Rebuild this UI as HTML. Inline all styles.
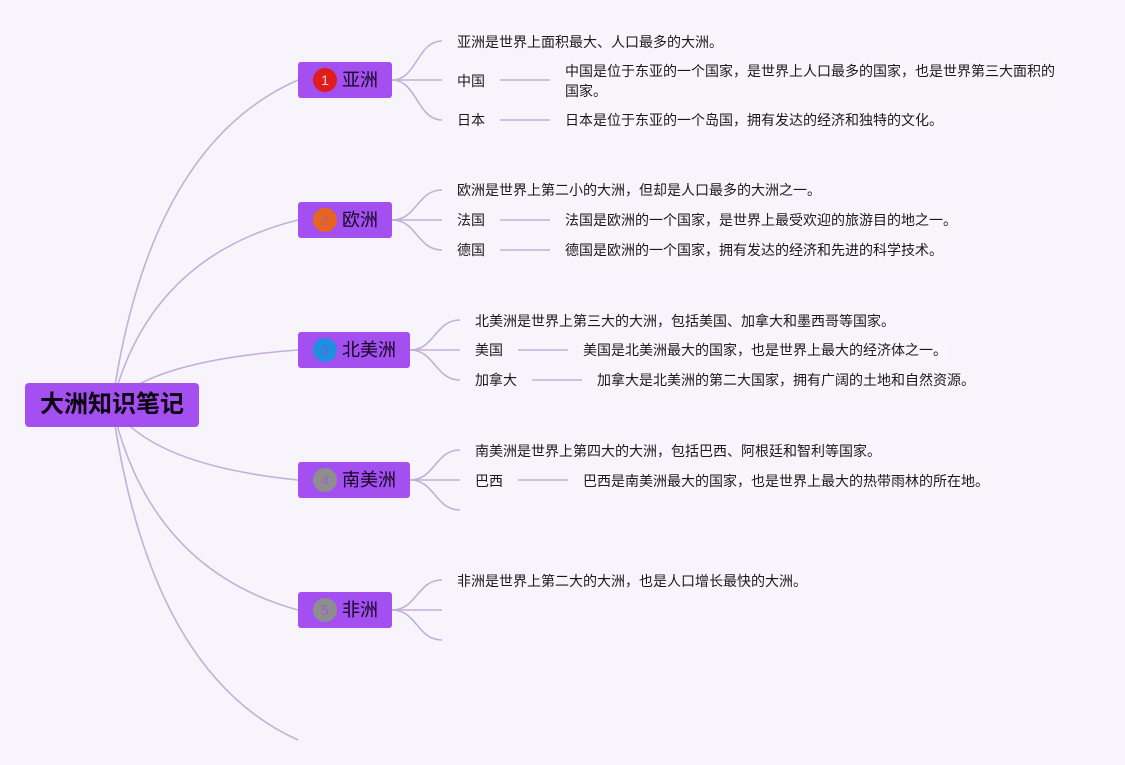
<!DOCTYPE html>
<html>
<head>
<meta charset="utf-8">
<style>
  html,body{margin:0;padding:0;}
  body{width:1125px;height:765px;background:#f8f4fb;position:relative;overflow:hidden;
    font-family:"Liberation Sans","Noto Sans CJK SC",sans-serif;}
  svg{position:absolute;left:0;top:0;}
  .root{position:absolute;left:25px;top:383px;width:174px;height:44px;background:#a44ff0;border-radius:4px;
    color:#0a0010;font-weight:bold;font-size:24px;line-height:44px;text-align:center;letter-spacing:0px;}
  .node{position:absolute;height:36px;background:#a44ff0;border-radius:3px;}
  .badge{position:absolute;left:15px;top:6px;width:24px;height:24px;border-radius:50%;
    font-size:14px;line-height:24px;text-align:center;font-family:"Liberation Sans",sans-serif;}
  .lbl{position:absolute;left:44px;top:0;line-height:36px;font-size:18px;color:#14061f;white-space:nowrap;}
  .t{position:absolute;font-size:14px;line-height:20px;color:#1a1a1a;white-space:nowrap;}
  .d{background:rgba(255,255,255,0.2);}
</style>
</head>
<body>
<svg width="1125" height="765" viewBox="0 0 1125 765">
  <g fill="none" stroke="#c3b0d9" stroke-width="1.6">
    <path d="M112,405 Q149,145 298,80"/>
    <path d="M112,405 Q149,257 298,220"/>
    <path d="M112,405 Q149,361 298,350"/>
    <path d="M112,405 Q149,465 298,480"/>
    <path d="M112,405 Q149,569 298,610"/>
    <path d="M112,405 Q149,673 298,740"/>

    <path d="M392,80 C417,80 417,41 442,41"/>
    <path d="M392,80 L442,80"/>
    <path d="M392,80 C417,80 417,120 442,120"/>

    <path d="M392,220 C417,220 417,190 442,190"/>
    <path d="M392,220 L442,220"/>
    <path d="M392,220 C417,220 417,250 442,250"/>

    <path d="M410,350 C435,350 435,320 460,320"/>
    <path d="M410,350 L460,350"/>
    <path d="M410,350 C435,350 435,380 460,380"/>

    <path d="M410,480 C435,480 435,450 460,450"/>
    <path d="M410,480 L460,480"/>
    <path d="M410,480 C435,480 435,510 460,510"/>

    <path d="M392,610 C417,610 417,580 442,580"/>
    <path d="M392,610 L442,610"/>
    <path d="M392,610 C417,610 417,640 442,640"/>

    <path d="M500,80 L550,80"/>
    <path d="M500,120 L550,120"/>
    <path d="M500,220 L550,220"/>
    <path d="M500,250 L550,250"/>
    <path d="M518,350 L568,350"/>
    <path d="M532,380 L582,380"/>
    <path d="M518,480 L568,480"/>
  </g>
</svg>

<div class="root">大洲知识笔记</div>

<div class="node" style="left:298px;top:62px;width:94px;">
  <div class="badge" style="background:#e01d1d;color:#f6d0d0;">1</div>
  <div class="lbl">亚洲</div>
</div>
<div class="node" style="left:298px;top:202px;width:94px;">
  <div class="badge" style="background:#e8651f;color:#b35a9a;">2</div>
  <div class="lbl">欧洲</div>
</div>
<div class="node" style="left:298px;top:332px;width:112px;">
  <div class="badge" style="background:#1f8fe0;color:#6a5fd8;">3</div>
  <div class="lbl">北美洲</div>
</div>
<div class="node" style="left:298px;top:462px;width:112px;">
  <div class="badge" style="background:#8e8e8e;color:#9a5fd0;">4</div>
  <div class="lbl">南美洲</div>
</div>
<div class="node" style="left:298px;top:592px;width:94px;">
  <div class="badge" style="background:#8e8e8e;color:#9a5fd0;">5</div>
  <div class="lbl">非洲</div>
</div>

<div class="t" style="left:457px;top:32px;">亚洲是世界上面积最大、人口最多的大洲。</div>
<div class="t" style="left:457px;top:71px;">中国</div>
<div class="t d" style="left:565px;top:61px;width:492px;white-space:normal;">中国是位于东亚的一个国家，是世界上人口最多的国家，也是世界第三大面积的国家。</div>
<div class="t" style="left:457px;top:110px;">日本</div>
<div class="t d" style="left:565px;top:110px;">日本是位于东亚的一个岛国，拥有发达的经济和独特的文化。</div>

<div class="t" style="left:457px;top:180px;">欧洲是世界上第二小的大洲，但却是人口最多的大洲之一。</div>
<div class="t" style="left:457px;top:210px;">法国</div>
<div class="t d" style="left:565px;top:210px;">法国是欧洲的一个国家，是世界上最受欢迎的旅游目的地之一。</div>
<div class="t" style="left:457px;top:240px;">德国</div>
<div class="t d" style="left:565px;top:240px;">德国是欧洲的一个国家，拥有发达的经济和先进的科学技术。</div>

<div class="t" style="left:475px;top:311px;">北美洲是世界上第三大的大洲，包括美国、加拿大和墨西哥等国家。</div>
<div class="t" style="left:475px;top:340px;">美国</div>
<div class="t d" style="left:583px;top:340px;">美国是北美洲最大的国家，也是世界上最大的经济体之一。</div>
<div class="t" style="left:475px;top:370px;">加拿大</div>
<div class="t d" style="left:597px;top:370px;">加拿大是北美洲的第二大国家，拥有广阔的土地和自然资源。</div>

<div class="t" style="left:475px;top:441px;">南美洲是世界上第四大的大洲，包括巴西、阿根廷和智利等国家。</div>
<div class="t" style="left:475px;top:471px;">巴西</div>
<div class="t d" style="left:583px;top:471px;">巴西是南美洲最大的国家，也是世界上最大的热带雨林的所在地。</div>

<div class="t" style="left:457px;top:571px;">非洲是世界上第二大的大洲，也是人口增长最快的大洲。</div>
</body>
</html>
